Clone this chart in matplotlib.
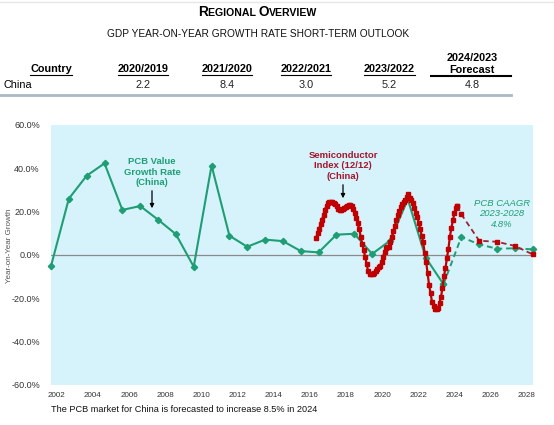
import matplotlib
matplotlib.use("Agg")
import matplotlib.pyplot as plt
import numpy as np

plt.rcParams['font.family'] = ['Liberation Sans', 'DejaVu Sans']

# ---------------- data ----------------
table_cols = ["2020/2019", "2021/2020", "2022/2021", "2023/2022", "2024/2023\nForecast"]
table_country = "China"
table_vals = ["2.2", "8.4", "3.0", "5.2", "4.8"]

pcb_years = list(range(2001, 2024))
pcb_vals = [-5.1, 26.0, 36.6, 42.3, 20.8, 22.6, 16.3, 9.6, -5.4, 41.3, 8.9, 3.8,
            7.1, 6.4, 1.8, 1.2, 9.4, 9.8, 0.5, 6.6, 25.7, -1.2, -13.5]
pcb_fc_years = [2023, 2024, 2025, 2026, 2027, 2028]
pcb_fc_vals = [-13.5, 8.3, 4.9, 2.9, 3.1, 2.6]

semi_start = 2015.86   # first monthly observation (chart x units)
semi_vals = [8.0, 10.0, 12.0, 14.3, 16.3, 18.5, 21.0, 22.8, 23.8, 24.3, 24.3, 24.3,
             24.2, 23.6, 22.5, 21.4, 20.6, 20.8, 21.2, 21.6, 22.0, 22.4, 23.0, 23.1,
             22.6, 21.4, 19.3, 17.0, 14.6, 12.0, 8.5, 5.0, 2.5, -1.0, -4.2, -7.5,
             -8.8, -8.9, -8.8, -8.3, -7.2, -6.4, -5.7, -5.2, -3.0, -1.0, 1.5, 3.3,
             3.5, 3.8, 6.1, 8.3, 11.0, 13.6, 16.0, 18.3, 20.3, 22.0, 23.5, 24.5,
             25.3, 27.0, 28.3, 26.4, 25.2, 23.8, 21.5, 19.5, 17.5, 15.0, 12.0, 9.0,
             6.1, 1.0, -3.0, -8.5, -14.0, -17.7, -21.8, -23.5, -24.9, -25.0, -24.6, -22.0,
             -19.5, -15.0, -9.8, -6.0, -1.5, 3.0, 8.5, 12.5, 16.0, 19.3, 21.5, 22.6]
semi_fc_years = [2024, 2025, 2026, 2027, 2028]
semi_fc_vals = [18.8, 6.6, 6.1, 4.2, 0.3]

tick_labels = [str(y) for y in range(2002, 2029, 2)]
ytick_vals = [-60, -40, -20, 0, 20, 40, 60]

GREEN = "#1f9e74"
RED = "#c00000"
BG = "#d6f3fc"

W, H = 554, 425
fig = plt.figure(figsize=(W / 100, H / 100), dpi=100)


def fx(px):
    return px / W


def fy(py):
    return 1 - py / H


# ---------------- header ----------------
title_parts = [("R", 9.8), ("EGIONAL ", 7.6), ("O", 9.8), ("VERVIEW", 7.6)]
title_texts = [fig.text(0, fy(16), s, fontsize=fs, fontweight='bold', ha='left',
                        va='baseline', color='black') for s, fs in title_parts]

fig.text(fx(258), fy(34), "GDP YEAR-ON-YEAR GROWTH RATE SHORT-TERM OUTLOOK",
         fontsize=7.3, ha='center', va='center', color='#111111')

hdr_y = 69
col_x = [143, 227, 306, 389, 472]
hdr_texts = [fig.text(fx(51), fy(hdr_y), "Country", fontsize=7.8, fontweight='bold',
                      ha='center', va='center')]
for cx, c in zip(col_x[:-1], table_cols[:-1]):
    hdr_texts.append(fig.text(fx(cx), fy(hdr_y), c, fontsize=7.8, fontweight='bold',
                              ha='center', va='center'))
fig.text(fx(col_x[-1]), fy(64), table_cols[-1], fontsize=7.8, fontweight='bold',
         ha='center', va='center', linespacing=1.15)
fig.add_artist(plt.Line2D([fx(431), fx(511)], [fy(75.5), fy(75.5)], color='black', lw=1.5))

fig.text(fx(3), fy(85), table_country, fontsize=7.8, ha='left', va='center')
for cx, v in zip(col_x, table_vals):
    fig.text(fx(cx), fy(85), v, fontsize=7.8, ha='center', va='center', color='#222222')
fig.add_artist(plt.Line2D([fx(0), fx(511)], [fy(95), fy(95)], color='#a9b9c9', lw=2))
fig.add_artist(plt.Line2D([fx(0), fx(554)], [fy(1.5), fy(1.5)], color='#e6e6e6', lw=1))

# ---------------- chart ----------------
ax = fig.add_axes([fx(51), fy(385), (532.7 - 51) / W, (385 - 125) / H])
ax.set_facecolor(BG)
for s in ax.spines.values():
    s.set_visible(False)
ax.set_xlim(2001, 2028)
ax.set_ylim(-60, 60)
ax.axhline(0, color='#8a8a8a', lw=0.9, zorder=1)

ax.plot(pcb_years, pcb_vals, color=GREEN, lw=1.5, marker='D', ms=3.2, zorder=3, clip_on=False)
ax.plot(pcb_fc_years, pcb_fc_vals, color=GREEN, lw=1.4, ls=(0, (3, 2)), marker='D', ms=3.2,
        zorder=3, clip_on=False)

semi_x = semi_start + np.arange(len(semi_vals)) / 12.0
ax.plot(semi_x, semi_vals, color=RED, lw=1.6, marker='s', ms=3.2, zorder=4)
ax.plot([semi_x[-1]] + semi_fc_years, [semi_vals[-1]] + semi_fc_vals, color='#9b2335', lw=1.3,
        ls=(0, (3, 2)), marker='s', ms=3.4, mfc=RED, mec=RED, zorder=4, clip_on=False)

ax.set_xticks(np.linspace(2001.32, 2027.66, len(tick_labels)))
ax.set_xticklabels(tick_labels, fontsize=5.8, color='#333333')
ax.set_yticks(ytick_vals)
ax.set_yticklabels([f"{v:.1f}%" for v in ytick_vals], fontsize=6.5, color='#333333')
ax.tick_params(axis='both', length=0)
ax.tick_params(axis='x', pad=5)
ax.tick_params(axis='y', pad=8)

fig.text(fx(10), fy(246), "Year-on-Year Growth", rotation=90, fontsize=5.8,
         color='#555555', ha='center', va='center')


def to_data(px, py):
    disp = fig.transFigure.transform((fx(px), fy(py)))
    return ax.transData.inverted().transform(disp)


ax.text(*to_data(152, 172), "PCB Value\nGrowth Rate\n(China)", color=GREEN, fontsize=6.8,
        fontweight='bold', ha='center', va='center', linespacing=1.2)
ax.annotate("", xy=to_data(152, 211), xytext=to_data(152, 188),
            arrowprops=dict(arrowstyle='-|>', color='black', lw=0.9, mutation_scale=6))
ax.text(*to_data(343, 166), "Semiconductor\nIndex (12/12)\n(China)", color='#a3152a',
        fontsize=6.8, fontweight='bold', ha='center', va='center', linespacing=1.2)
ax.annotate("", xy=to_data(343, 201), xytext=to_data(343, 182),
            arrowprops=dict(arrowstyle='-|>', color='black', lw=0.9, mutation_scale=6))
ax.text(*to_data(502, 214), "PCB CAAGR\n2023-2028\n4.8%", color=GREEN, fontsize=6.8,
        fontstyle='italic', ha='center', va='center', linespacing=1.2)

fig.text(fx(51), fy(409), "The PCB market for China is forecasted to increase 8.5% in 2024",
         fontsize=6.6, ha='left', va='center', color='#111111')

# ---------------- layout of small-caps title and underlines ----------------
fig.canvas.draw()
r = fig.canvas.get_renderer()
widths = [t.get_window_extent(r).width for t in title_texts]
x_px = 258 - sum(widths) / 2
for t, w in zip(title_texts, widths):
    t.set_x(x_px / W)
    x_px += w

for ht in hdr_texts:
    bb = ht.get_window_extent(r)
    fig.add_artist(plt.Line2D([bb.x0 / W, bb.x1 / W], [(bb.y0 - 1.2) / H, (bb.y0 - 1.2) / H],
                              color='black', lw=0.8))

fig.savefig("out.png", dpi=100)
